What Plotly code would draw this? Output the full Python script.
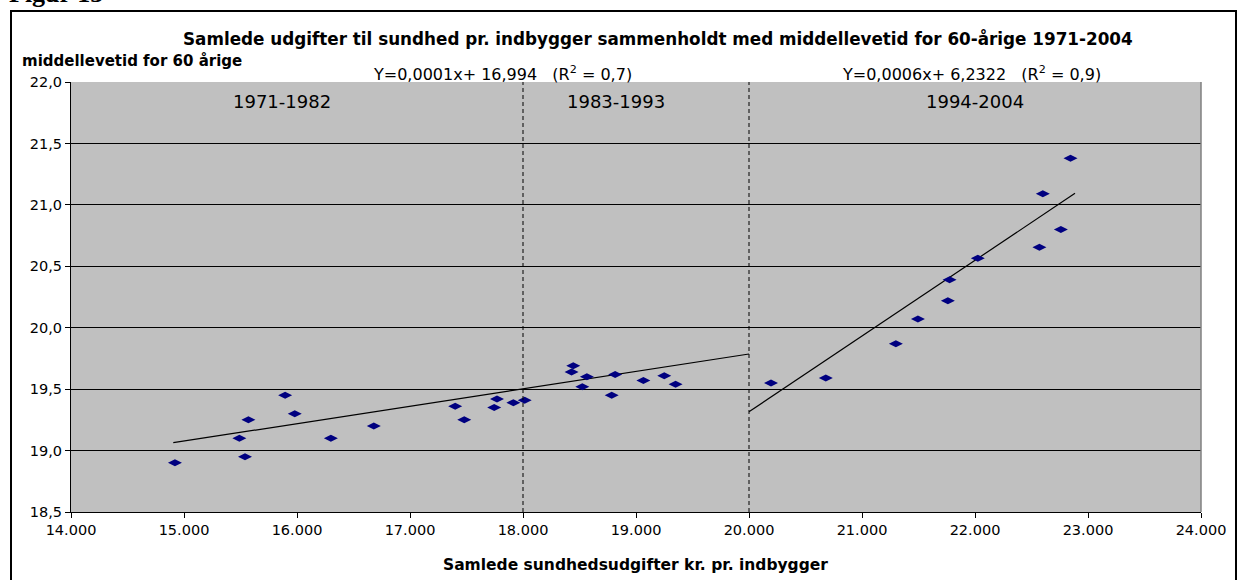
import plotly.graph_objects as go

# ---- data ----
x_7193 = [14920, 15490, 15540, 15570, 15895, 15980, 16300, 16680, 17400, 17480,
          17745, 17770, 17915, 18015, 18445, 18430, 18565, 18525, 18815, 18785,
          19065, 19250, 19350]
y_7193 = [18.90, 19.10, 18.95, 19.25, 19.45, 19.30, 19.10, 19.20, 19.36, 19.25,
          19.35, 19.42, 19.39, 19.41, 19.69, 19.64, 19.60, 19.52, 19.62, 19.45,
          19.57, 19.61, 19.54]
x_9404 = [20195, 20680, 21300, 21495, 21760, 21775, 22025, 22570, 22600, 22760, 22845]
y_9404 = [19.55, 19.59, 19.87, 20.07, 20.22, 20.39, 20.565, 20.655, 21.09, 20.80, 21.38]

trend1_x = [14905, 20000]
trend1_y = [19.064, 19.786]
trend2_x = [20000, 22885]
trend2_y = [19.316, 21.094]

divider_x = [18000, 20000]
period_labels = ["1971-1982", "1983-1993", "1994-2004"]
period_x = [15870, 18825, 22000]
equations = ["Y=0,0001x+ 16,994&nbsp;&nbsp;&nbsp;(R<sup>2</sup> = 0,7)",
             "Y=0,0006x+ 6,2322&nbsp;&nbsp;&nbsp;(R<sup>2</sup> = 0,9)"]

x_ticks = [14000, 15000, 16000, 17000, 18000, 19000, 20000, 21000, 22000, 23000, 24000]
y_ticks = [18.5, 19.0, 19.5, 20.0, 20.5, 21.0, 21.5, 22.0]

title = "Samlede udgifter til sundhed pr. indbygger sammenholdt med middellevetid for 60-årige 1971-2004"
y_title = "middellevetid for 60 årige"
x_title = "Samlede sundhedsudgifter kr. pr. indbygger"

# ---- geometry ----
W, H = 1238, 580
L, R, T, B = 71, 1201, 82, 512
FONT = "DejaVu Sans, Verdana, sans-serif"


def px(xp):
    return (xp - L) / (R - L)


def py(yp):
    return (B - yp) / (B - T)


fig = go.Figure()

fig.add_trace(go.Scatter(x=trend1_x, y=trend1_y, mode="lines",
                         line=dict(color="black", width=1.2), showlegend=False, hoverinfo="skip"))
fig.add_trace(go.Scatter(x=trend2_x, y=trend2_y, mode="lines",
                         line=dict(color="black", width=1.2), showlegend=False, hoverinfo="skip"))
fig.add_trace(go.Scatter(x=x_7193 + x_9404, y=y_7193 + y_9404, mode="markers",
                         marker=dict(symbol="diamond-wide", size=10, color="#000080",
                                     line=dict(width=0)),
                         showlegend=False))

shapes = []
for dx in divider_x:
    shapes.append(dict(type="line", xref="x", yref="paper", x0=dx, x1=dx, y0=0, y1=1,
                       line=dict(color="black", width=1, dash="4px,3px"), layer="above"))
# plot-area frame (grey) on the right
shapes.append(dict(type="line", xref="paper", yref="paper", x0=1, x1=1, y0=0, y1=1,
                   line=dict(color="#808080", width=1.5)))
# outer figure border
shapes.append(dict(type="rect", xref="paper", yref="paper",
                   x0=px(11), x1=px(1236), y0=py(11), y1=py(590),
                   line=dict(color="black", width=2), fillcolor="rgba(0,0,0,0)", layer="below"))

annotations = []
annotations.append(dict(text="<b>Figur 13</b>", xref="paper", yref="paper", x=px(7), y=py(-6),
                        xanchor="left", yanchor="middle", showarrow=False,
                        font=dict(family="Liberation Serif, Times New Roman, serif", size=26, color="black")))
annotations.append(dict(text="<b>" + title + "</b>", xref="paper", yref="paper", x=px(658), y=py(39),
                        xanchor="center", yanchor="middle", showarrow=False,
                        font=dict(family=FONT, size=16.8, color="black")))
annotations.append(dict(text="<b>" + y_title + "</b>", xref="paper", yref="paper", x=px(20), y=py(61),
                        xanchor="left", yanchor="middle", showarrow=False,
                        font=dict(family=FONT, size=15, color="black")))
annotations.append(dict(text="<b>" + x_title + "</b>", xref="paper", yref="paper", x=px(635), y=py(565),
                        xanchor="center", yanchor="middle", showarrow=False,
                        font=dict(family=FONT, size=15.5, color="black")))
eq_x = [502, 971]
for t, ex in zip(equations, eq_x):
    annotations.append(dict(text=t, xref="paper", yref="paper", x=px(ex), y=py(73),
                            xanchor="center", yanchor="middle", showarrow=False,
                            font=dict(family=FONT, size=16, color="black")))
for lab, lx in zip(period_labels, period_x):
    annotations.append(dict(text=lab, xref="x", yref="paper", x=lx, y=py(102),
                            xanchor="center", yanchor="middle", showarrow=False,
                            font=dict(family=FONT, size=18, color="black")))

fig.update_layout(
    width=W, height=H, autosize=False,
    margin=dict(l=L, r=W - R, t=T, b=H - B, pad=0),
    paper_bgcolor="white", plot_bgcolor="#C0C0C0",
    separators=",.",
    font=dict(family=FONT, size=14, color="black"),
    shapes=shapes, annotations=annotations,
    xaxis=dict(range=[14000, 24000], tickvals=x_ticks, tickformat=",.0f",
               showgrid=False, zeroline=False, showline=True, linecolor="black", linewidth=1,
               ticks="outside", ticklen=5, tickcolor="black", tickfont=dict(size=14.5),
               fixedrange=True),
    yaxis=dict(range=[18.5, 22.0], tickvals=y_ticks, tickformat=".1f",
               showgrid=True, gridcolor="black", gridwidth=1, zeroline=False,
               showline=True, linecolor="black", linewidth=1,
               ticks="outside", ticklen=5, tickcolor="black", tickfont=dict(size=14.5),
               fixedrange=True),
)

fig.write_html("out.html", config={"displayModeBar": False},
               post_script="document.body.style.margin='0';document.body.style.overflow='hidden';")
